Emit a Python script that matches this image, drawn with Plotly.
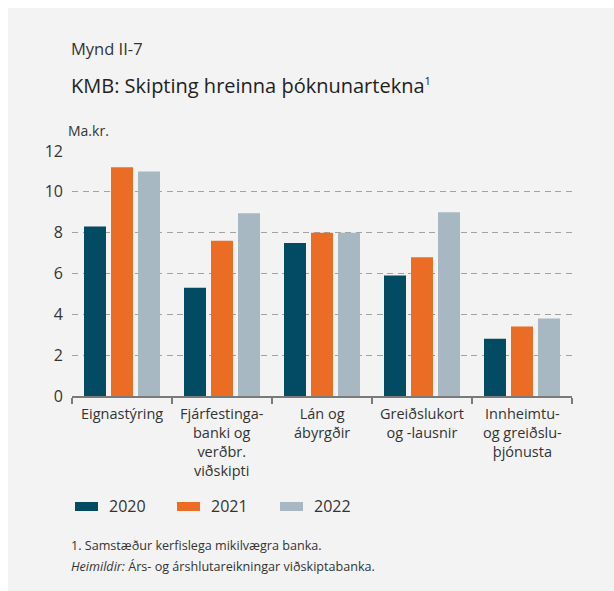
import plotly.graph_objects as go

# Data: net fee income by business line (ISK billions)
categories = [
    "Eignastýring",
    "Fjárfestinga-\nbanki og\nverðbr.\nviðskipti",
    "Lán og\nábyrgðir",
    "Greiðslukort\nog -lausnir",
    "Innheimtu-\nog greiðslu-\nþjónusta",
]
years = ["2020", "2021", "2022"]
values_2020 = [8.3, 5.3, 7.5, 5.9, 2.8]
values_2021 = [11.2, 7.6, 8.0, 6.8, 3.4]
values_2022 = [11.0, 8.95, 8.0, 9.0, 3.8]
y_ticks = [0, 2, 4, 6, 8, 10, 12]

colors = ["#034A63", "#EB6D25", "#A7B8C3"]
series = [values_2020, values_2021, values_2022]

W, H = 614, 591
L, R, T, B = 72, 572, 151, 396  # plot area in pixels
FONT = "Open Sans"
TXT = "#333333"
BG = "#F3F3F3"


def px(x):
    return (x - L) / (R - L)


def py(y):
    return (B - y) / (B - T)


cat_keys = [c.replace("\n", " ") for c in categories]

fig = go.Figure()
for name, vals, col in zip(years, series, colors):
    fig.add_trace(go.Bar(x=cat_keys, y=vals, name=name, marker=dict(color=col, line=dict(width=0)),
                         showlegend=False))

annotations = []
# Multi-line category labels under each group
for key, label in zip(cat_keys, categories):
    annotations.append(dict(x=key, xref="x", y=py(401.5), yref="paper",
                            text=label.replace("\n", "<br>"),
                            showarrow=False, xanchor="center", yanchor="top", align="center",
                            font=dict(family=FONT, size=14.5, color=TXT)))

# Headings
annotations.append(dict(x=px(69), y=py(48), xref="paper", yref="paper", text="Mynd II-7",
                        showarrow=False, xanchor="left", yanchor="middle",
                        font=dict(family=FONT, size=16.5, color=TXT)))
annotations.append(dict(x=px(69), y=py(86), xref="paper", yref="paper",
                        text="KMB: Skipting hreinna þóknunartekna"
                             "<sup><span style='font-size:11px'>1</span></sup>",
                        showarrow=False, xanchor="left", yanchor="middle",
                        font=dict(family=FONT, size=20, color="#222222")))
annotations.append(dict(x=px(66), y=py(130), xref="paper", yref="paper", text="Ma.kr.",
                        showarrow=False, xanchor="left", yanchor="middle",
                        font=dict(family=FONT, size=14, color=TXT)))

# Footnotes
annotations.append(dict(x=px(69), y=py(545), xref="paper", yref="paper",
                        text="1. Samstæður kerfislega mikilvægra banka.",
                        showarrow=False, xanchor="left", yanchor="middle",
                        font=dict(family=FONT, size=12.6, color=TXT)))
annotations.append(dict(x=px(69), y=py(566), xref="paper", yref="paper",
                        text="<i>Heimildir:</i> Árs- og árshlutareikningar viðskiptabanka.",
                        showarrow=False, xanchor="left", yanchor="middle",
                        font=dict(family=FONT, size=12.6, color=TXT)))

shapes = [
    # white strips framing the grey panel
    dict(type="rect", xref="paper", yref="paper", x0=px(0), x1=px(8), y0=py(H), y1=py(0),
         fillcolor="white", line=dict(width=0), layer="below"),
    dict(type="rect", xref="paper", yref="paper", x0=px(0), x1=px(W), y0=py(8), y1=py(0),
         fillcolor="white", line=dict(width=0), layer="below"),
]

# Manual legend
legend_x = [75, 177, 280]
for name, col, lx in zip(years, colors, legend_x):
    shapes.append(dict(type="rect", xref="paper", yref="paper", x0=px(lx), x1=px(lx + 23),
                       y0=py(511), y1=py(502), fillcolor=col, line=dict(width=0)))
    annotations.append(dict(x=px(lx + 32), y=py(506), xref="paper", yref="paper", text=name,
                            showarrow=False, xanchor="left", yanchor="middle",
                            font=dict(family=FONT, size=16, color=TXT)))

fig.update_layout(
    width=W, height=H,
    margin=dict(l=L, r=W - R, t=T, b=H - B, pad=0),
    paper_bgcolor=BG, plot_bgcolor=BG,
    barmode="group", bargap=0.19, bargroupgap=0.185,
    annotations=annotations, shapes=shapes,
    showlegend=False,
    font=dict(family=FONT, color=TXT),
)
fig.update_xaxes(
    type="category", showticklabels=False, showgrid=False, zeroline=False,
    showline=True, linecolor="#7A7A7A", linewidth=1.5,
    ticks="outside", tickson="boundaries", ticklen=6, tickcolor="#7A7A7A", tickwidth=1.5,
)
fig.update_yaxes(
    range=[0, 12], tickvals=y_ticks, showline=False, zeroline=False,
    showgrid=True, gridcolor="#A2A2A2", gridwidth=1.3, griddash="6px,4.5px",
    tickfont=dict(family=FONT, size=16, color=TXT), ticks="", ticklabelstandoff=8,
)

fig.write_html("out.html")
